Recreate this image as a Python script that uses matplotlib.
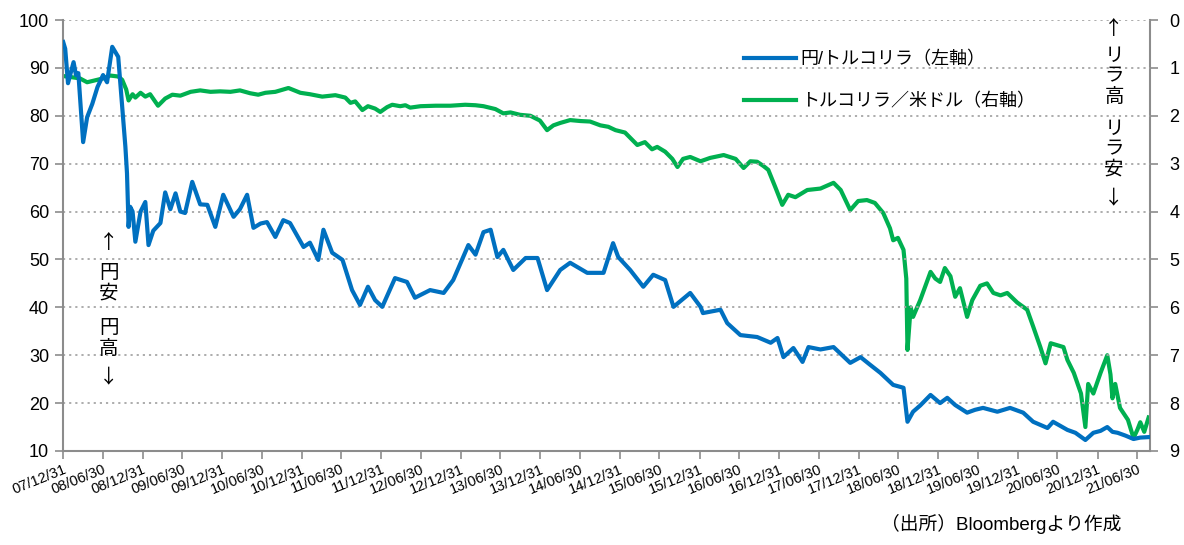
import pandas as pd
import matplotlib
matplotlib.use('Agg')
import matplotlib.pyplot as plt
import matplotlib.dates as mdates

plt.rcParams['font.family'] = ['Liberation Sans', 'Noto Sans CJK JP']

# 円/トルコリラ（左軸） : 小数表記の年, 値
jpy_t = [2008.00, 2008.025, 2008.06, 2008.13, 2008.16, 2008.19, 2008.25, 2008.30, 2008.365,
         2008.43, 2008.50, 2008.55, 2008.615, 2008.69, 2008.74, 2008.78, 2008.80, 2008.82,
         2008.84, 2008.87, 2008.905, 2008.97, 2009.03, 2009.07, 2009.13, 2009.22, 2009.28,
         2009.345, 2009.41, 2009.47, 2009.53, 2009.62, 2009.72, 2009.81, 2009.91, 2010.01,
         2010.14, 2010.22, 2010.31, 2010.39, 2010.48, 2010.56, 2010.665, 2010.765, 2010.85,
         2011.02, 2011.10, 2011.205, 2011.27, 2011.38, 2011.51, 2011.63, 2011.73, 2011.83,
         2011.92, 2012.01, 2012.17, 2012.32, 2012.42, 2012.61, 2012.78, 2012.90, 2013.09,
         2013.18, 2013.28, 2013.37, 2013.455, 2013.53, 2013.655, 2013.81, 2013.96, 2014.08,
         2014.245, 2014.37, 2014.585, 2014.79, 2014.91, 2014.975, 2015.125, 2015.29, 2015.415,
         2015.565, 2015.67, 2015.88, 2016.01, 2016.04, 2016.26, 2016.345, 2016.51, 2016.72,
         2016.89, 2016.975, 2017.05, 2017.175, 2017.29, 2017.365, 2017.515, 2017.68, 2017.89,
         2018.02, 2018.14, 2018.27, 2018.43, 2018.56, 2018.61, 2018.68, 2018.77, 2018.90,
         2019.02, 2019.11, 2019.21, 2019.36, 2019.46, 2019.56, 2019.74, 2019.90, 2020.065,
         2020.19, 2020.37, 2020.44, 2020.62, 2020.72, 2020.845, 2020.945, 2021.035, 2021.12,
         2021.185, 2021.25, 2021.35, 2021.45, 2021.535, 2021.64]
jpy_v = [95.4, 94.0, 86.8, 91.2, 88.5, 88.9, 74.5, 79.7, 82.5,
         86.0, 88.5, 87.0, 94.4, 92.3, 81.8, 73.5, 68.0, 56.8,
         61.0, 60.0, 53.7, 60.0, 62.0, 53.0, 56.0, 57.6, 64.0,
         60.5, 63.8, 60.0, 59.7, 66.2, 61.5, 61.4, 56.8, 63.5,
         58.9, 60.5, 63.5, 56.6, 57.5, 57.8, 54.7, 58.2, 57.6,
         52.6, 53.5, 49.9, 56.2, 51.4, 49.9, 43.6, 40.5, 44.3,
         41.5, 40.1, 46.1, 45.3, 42.0, 43.6, 43.0, 45.7, 53.0,
         51.0, 55.7, 56.2, 50.5, 52.0, 47.8, 50.3, 50.3, 43.6,
         47.8, 49.3, 47.2, 47.2, 53.4, 50.5, 47.8, 44.3, 46.8,
         45.7, 40.1, 43.0, 40.1, 38.8, 39.5, 36.7, 34.2, 33.8,
         32.6, 33.6, 29.6, 31.5, 28.6, 31.7, 31.2, 31.7, 28.4,
         29.6, 28.0, 26.3, 23.8, 23.2, 16.1, 18.2, 19.5, 21.7,
         20.0, 21.1, 19.6, 18.0, 18.6, 19.0, 18.2, 19.0, 18.0,
         16.1, 14.8, 16.1, 14.4, 13.8, 12.3, 13.8, 14.2, 15.0,
         14.0, 13.8, 13.2, 12.5, 12.8, 12.9]

# トルコリラ／米ドル（右軸）
try_t = [2008.00, 2008.09, 2008.21, 2008.30, 2008.40, 2008.50, 2008.59, 2008.69, 2008.74,
         2008.79, 2008.82, 2008.87, 2008.905, 2008.97, 2009.03, 2009.09, 2009.19, 2009.28,
         2009.37, 2009.47, 2009.60, 2009.72, 2009.85, 2009.97, 2010.10, 2010.22, 2010.35,
         2010.45, 2010.54, 2010.665, 2010.83, 2010.98, 2011.10, 2011.255, 2011.42, 2011.545,
         2011.61, 2011.67, 2011.76, 2011.83, 2011.92, 2011.985, 2012.07, 2012.135, 2012.235,
         2012.30, 2012.36, 2012.49, 2012.68, 2012.865, 2013.05, 2013.18, 2013.28, 2013.43,
         2013.53, 2013.62, 2013.74, 2013.87, 2013.99, 2014.08, 2014.16, 2014.245, 2014.37,
         2014.50, 2014.62, 2014.75, 2014.85, 2014.94, 2015.06, 2015.215, 2015.31, 2015.40,
         2015.465, 2015.565, 2015.655, 2015.72, 2015.79, 2015.88, 2016.01, 2016.13, 2016.30,
         2016.45, 2016.55, 2016.635, 2016.72, 2016.80, 2016.86, 2016.95, 2017.035, 2017.11,
         2017.20, 2017.35, 2017.515, 2017.68, 2017.77, 2017.89, 2017.99, 2018.10, 2018.20,
         2018.305, 2018.39, 2018.43, 2018.49, 2018.56, 2018.595, 2018.61, 2018.65, 2018.68,
         2018.77, 2018.90, 2018.96, 2019.02, 2019.08, 2019.15, 2019.21, 2019.27, 2019.36,
         2019.425, 2019.525, 2019.61, 2019.69, 2019.78, 2019.865, 2019.99, 2020.115, 2020.19,
         2020.28, 2020.345, 2020.41, 2020.57, 2020.62, 2020.70, 2020.79, 2020.845, 2020.88,
         2020.945, 2021.035, 2021.12, 2021.16, 2021.185, 2021.22, 2021.28, 2021.38, 2021.45,
         2021.50, 2021.535, 2021.585, 2021.64]
try_v = [1.17, 1.19, 1.22, 1.30, 1.26, 1.22, 1.16, 1.18, 1.25,
         1.45, 1.68, 1.55, 1.62, 1.52, 1.60, 1.55, 1.79, 1.64,
         1.56, 1.58, 1.50, 1.47, 1.50, 1.49, 1.50, 1.47, 1.53,
         1.56, 1.52, 1.50, 1.42, 1.52, 1.55, 1.60, 1.57, 1.62,
         1.73, 1.70, 1.88, 1.80, 1.85, 1.92, 1.82, 1.77, 1.80,
         1.78, 1.83, 1.80, 1.79, 1.79, 1.77, 1.78, 1.80, 1.86,
         1.95, 1.93, 1.98, 2.00, 2.10, 2.30, 2.20, 2.15, 2.09,
         2.11, 2.12, 2.20, 2.23, 2.30, 2.35, 2.61, 2.55, 2.70,
         2.65, 2.75, 2.90, 3.07, 2.90, 2.86, 2.95, 2.88, 2.82,
         2.90, 3.09, 2.95, 2.96, 3.05, 3.13, 3.50, 3.86, 3.65,
         3.70, 3.55, 3.52, 3.40, 3.55, 3.97, 3.78, 3.76, 3.82,
         4.03, 4.35, 4.60, 4.55, 4.80, 5.40, 6.89, 6.00, 6.20,
         5.85, 5.26, 5.40, 5.47, 5.18, 5.35, 5.78, 5.60, 6.20,
         5.85, 5.55, 5.50, 5.70, 5.75, 5.70, 5.90, 6.05, 6.40,
         6.83, 7.17, 6.75, 6.83, 7.10, 7.37, 7.80, 8.50, 7.60,
         7.80, 7.37, 7.00, 7.40, 7.90, 7.60, 8.10, 8.35, 8.73,
         8.55, 8.40, 8.60, 8.30]

left_ticks = list(range(10, 101, 10))
right_ticks = list(range(0, 10))


def to_date(y):
    yr = int(y)
    start = pd.Timestamp(yr, 1, 1)
    end = pd.Timestamp(yr + 1, 1, 1)
    return start + (end - start) * (y - yr)


jpy_d = [to_date(t) for t in jpy_t]
try_d = [to_date(t) for t in try_t]

xticks = []
for yr in range(2007, 2021):
    xticks.append(pd.Timestamp(yr, 12, 31))
    xticks.append(pd.Timestamp(yr + 1, 6, 30))

blue = '#0070C0'
green = '#00B050'
gray = '#8C8C8C'

fig = plt.figure(figsize=(11.84, 5.45), dpi=100)
ax = fig.add_axes([0.0532, 0.1725, 0.9181, 0.7908])
ax2 = ax.twinx()

l1, = ax.plot(jpy_d, jpy_v, color=blue, lw=3.0, label='円/トルコリラ（左軸）', zorder=3)
l2, = ax2.plot(try_d, try_v, color=green, lw=3.0, label='トルコリラ／米ドル（右軸）', zorder=2)
ax.set_zorder(ax2.get_zorder() + 1)
ax.patch.set_visible(False)

ax.set_ylim(10, 100)
ax.set_yticks(left_ticks)
ax2.set_ylim(9, 0)
ax2.set_yticks(right_ticks)
ax.set_xlim(pd.Timestamp(2007, 12, 31), pd.Timestamp(2021, 8, 29))
ax.set_xticks(xticks)
ax.xaxis.set_major_formatter(mdates.DateFormatter('%y/%m/%d'))

for a in (ax, ax2):
    for s in a.spines.values():
        s.set_color(gray)
        s.set_linewidth(1.5)
    a.spines['top'].set_visible(False)
ax.spines['right'].set_visible(False)
ax2.spines['left'].set_visible(False)
ax2.spines['bottom'].set_visible(False)

ax.tick_params(axis='y', direction='out', length=6, width=1.2, color=gray, labelsize=13, pad=4)
ax2.tick_params(axis='y', direction='out', length=6, width=1.2, color=gray, labelsize=13, pad=8)
ax.tick_params(axis='x', direction='out', length=6, width=1.2, color=gray, labelsize=10.5, pad=2)
for lab in ax.get_xticklabels():
    lab.set_rotation(22)
    lab.set_ha('right')
    lab.set_rotation_mode('anchor')

ax.grid(axis='y', linestyle=(0, (1.2, 2.2)), color='#A6A6A6', linewidth=1.3)
ax.set_axisbelow(True)

ax.legend(handles=[l1, l2], loc='upper left', bbox_to_anchor=(0.6115, 0.965), frameon=False,
          fontsize=13, handlelength=2.9, handletextpad=0.25, labelspacing=1.35)

# 円安・円高 注記
cjk = ['Noto Sans CJK JP']
for txt, y in [('↑', 242), ('円\n安', 283), ('円\n高', 338), ('↓', 377)]:
    fig.text(109 / 1184, 1 - y / 545, txt, ha='center', va='center', fontsize=14,
             family=cjk, linespacing=1.0)
# リラ高・リラ安 注記
for txt, y in [('↑', 28), ('リ\nラ\n高', 76), ('リ\nラ\n安', 149), ('↓', 198)]:
    fig.text(1114 / 1184, 1 - y / 545, txt, ha='center', va='center', fontsize=14,
             family=cjk, linespacing=0.95)

fig.text(1121 / 1184, 1 - 524 / 545, '（出所）Bloombergより作成', ha='right', va='center', fontsize=13.5)

fig.savefig('out.png', dpi=100)
